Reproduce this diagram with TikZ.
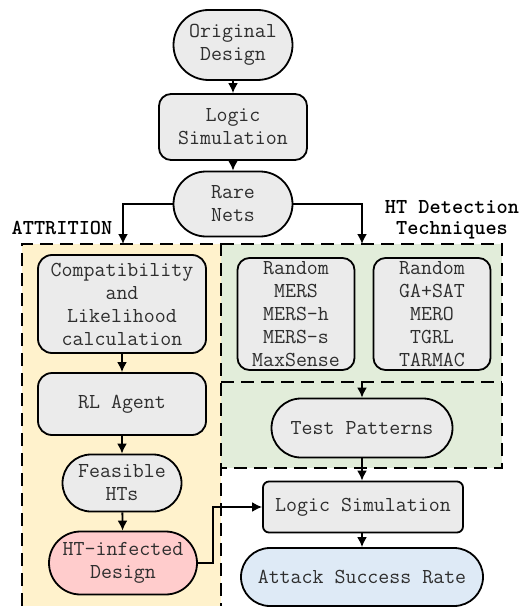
\documentclass[tikz,border=0pt]{standalone}
\usepackage{fontspec}
\usepackage{xcolor}
\usepackage{tikz}
\usetikzlibrary{positioning,calc,shapes,arrows.meta}

\definecolor{boxgray}{HTML}{EBEBEB}
\definecolor{attryellow}{HTML}{FFF2CC}
\definecolor{htgreen}{HTML}{E2EDDA}
\definecolor{infpink}{HTML}{FFCCCC}
\definecolor{asrblue}{HTML}{DEEAF6}
\definecolor{txtgray}{HTML}{2E2E2E}

\tikzset{
  every node/.style={font=\ttfamily\fontsize{21.3}{23}\selectfont, text=txtgray, align=center, inner sep=0pt},
  term/.style={rounded rectangle, draw=black, line width=1.8pt, fill=boxgray},
  proc/.style={rectangle, rounded corners=12pt, draw=black, line width=1.8pt, fill=boxgray},
  arr/.style={-{Latex[length=10pt,width=10pt]}, line width=1.8pt},
  dashline/.style={line width=2pt, dash pattern=on 13pt off 7pt}
}

\begin{document}
\begin{tikzpicture}[x=1pt, y=-1pt]
  \useasboundingbox (0,0) rectangle (527,607);

  % backgrounds of the two groups
  \fill[attryellow] (22,244) rectangle (221,606);
  \fill[htgreen] (221,244) rectangle (502,468);
  \draw[dashline] (22,606) -- (22,244) -- (221,244) -- (221,606);
  \draw[dashline] (221,244) -- (502,244) -- (502,468) -- (221,468);
  \draw[dashline] (221,382) -- (502,382);

  \node[font=\ttfamily\bfseries\fontsize{21.3}{23}\selectfont, text=black] (attrlbl) at (62,228) {ATTRITION};
  \node[font=\ttfamily\bfseries\fontsize{21.3}{21}\selectfont, text=black] (htlbl) at (452,220) {HT Detection\\Techniques};

  % main flow
  \node[term, minimum width=119pt, minimum height=70pt] (orig) at (233,45) {Original\\Design};
  \node[proc, minimum width=148pt, minimum height=66pt] (logic1) at (233,127) {Logic\\Simulation};
  \node[term, minimum width=119pt, minimum height=65pt] (rare) at (233,204) {Rare\\Nets};

  % attrition side
  \node[proc, minimum width=168pt, minimum height=98pt, rounded corners=14pt] (compat) at (122,304) {Compatibility\\and\\Likelihood\\calculation};
  \node[proc, minimum width=168pt, minimum height=62pt, rounded corners=14pt] (rl) at (122,404) {RL Agent};
  \node[term, minimum width=119pt, minimum height=57pt] (feas) at (122,483) {Feasible\\HTs};
  \node[term, fill=infpink, minimum width=148pt, minimum height=63pt] (infected) at (123,563) {HT-infected\\Design};

  % detection side
  \node[proc, minimum width=117pt, minimum height=112pt] (rand1) at (296,314) {Random\\MERS\\MERS-h\\MERS-s\\MaxSense};
  \node[proc, minimum width=117pt, minimum height=112pt] (rand2) at (432,314) {Random\\GA+SAT\\MERO\\TGRL\\TARMAC};
  \node[term, minimum width=181pt, minimum height=59pt] (test) at (362,428) {Test Patterns};
  \node[proc, rounded corners=6pt, minimum width=200pt, minimum height=51pt] (logic2) at (363,507) {Logic Simulation};
  \node[term, fill=asrblue, minimum width=242pt, minimum height=58pt] (asr) at (362,577) {Attack Success Rate};

  \coordinate (attrin) at (123,244);
  \coordinate (htin) at (362,244);
  \coordinate (techout) at (362,382);

  \draw[arr] (orig) -- (logic1);
  \draw[arr] (logic1) -- (rare);
  \draw[arr] (rare.west) -| (attrin);
  \draw[arr] (rare.east) -| (htin);
  \draw[arr] (compat) -- (rl);
  \draw[arr] (rl) -- (feas);
  \draw[arr] (feas) -- (infected);
  \draw[arr] (techout) -- (test);
  \draw[arr] (test.south) -- (test.south |- logic2.north);
  \draw[arr] (logic2.south -| asr.north) -- (asr.north);
  \draw[arr] (infected.east) -- ++(15,0) |- (logic2.west);
\end{tikzpicture}
\end{document}
